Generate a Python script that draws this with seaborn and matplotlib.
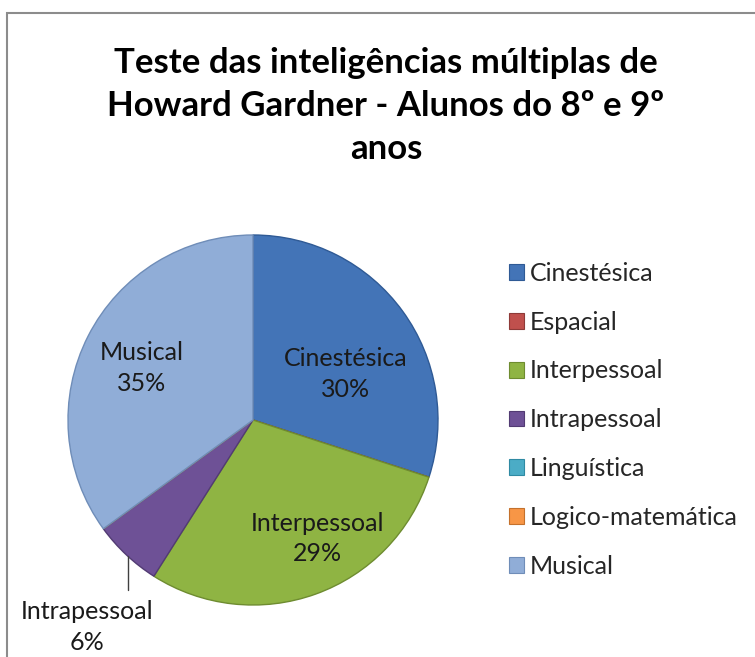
import matplotlib
matplotlib.use("Agg")
import matplotlib.pyplot as plt
import matplotlib.patches as mpatches
import seaborn as sns

# Data (percent of students)
categories = ['Cinestésica', 'Espacial', 'Interpessoal', 'Intrapessoal',
              'Linguística', 'Logico-matemática', 'Musical']
values = [30, 0, 29, 6, 0, 0, 35]
colors = ['#4374B7', '#C0504D', '#8FB443', '#6E5196', '#4BACC6', '#F79646', '#90ADD7']
edge_colors = ['#2F5A95', '#8E3A38', '#6E8C30', '#523B73', '#2F8AA3', '#C4712C', '#6F8DB8']

title = 'Teste das inteligências múltiplas de\nHoward Gardner - Alunos do 8º e 9º\nanos'

sns.set_theme(style="white")
plt.rcParams['font.family'] = ['Lato', 'DejaVu Sans']

W, H = 755, 657
fig = plt.figure(figsize=(W / 100, H / 100), dpi=100)
fig.patch.set_facecolor('white')

# chart area border (runs off the right/bottom of the image)
border = mpatches.Rectangle((6.5 / W, -0.1), 2, 1.1 - 12.5 / H, transform=fig.transFigure,
                            fill=False, edgecolor='#8C8C8C', linewidth=1.5)
fig.patches.append(border)

# pie axes: centre (253, 420) px, radius 185 px
cx, cy, r = 253, 420, 185
ax = fig.add_axes([(cx - r) / W, (H - cy - r) / H, 2 * r / W, 2 * r / H])
wedges, _ = ax.pie(values, colors=colors, startangle=90, counterclock=False,
                   radius=1.0, wedgeprops=dict(linewidth=1.0))
for w, ec in zip(wedges, edge_colors):
    w.set_edgecolor(ec)
ax.set_xlim(-1, 1)
ax.set_ylim(-1, 1)
ax.set_aspect('equal')
ax.axis('off')

# data label positions (in pie radii), Excel "best fit" style
label_pos = {'Cinestésica': (0.50, 0.25), 'Interpessoal': (0.35, -0.64),
             'Musical': (-0.60, 0.28), 'Intrapessoal': (-0.898, -1.12)}
for name, v in zip(categories, values):
    if v == 0:
        continue
    x, y = label_pos[name]
    ax.text(x, y, f'{name}\n{v}%', ha='center', va='center', fontsize=18,
            color='#1a1a1a', linespacing=1.4, clip_on=False)
    if name == 'Intrapessoal':
        # leader line to the small slice
        lx = -(cx - 128) / r
        ax.plot([lx, lx], [-(556 - cy) / r, -(590 - cy) / r], color='#404040', lw=1, clip_on=False)

fig.text(386 / W, 1 - 106 / H, title, ha='center', va='center', fontsize=25,
         fontweight='bold', color='black', linespacing=1.42)

handles = [mpatches.Patch(facecolor=c, edgecolor=e, linewidth=0.8) for c, e in zip(colors, edge_colors)]
fig.legend(handles, categories, loc='upper left', bbox_to_anchor=(509 / W, 1 - 262 / H),
           frameon=False, fontsize=18, handlelength=0.6, handleheight=0.6,
           handletextpad=0.25, labelspacing=1.03, borderpad=0, borderaxespad=0)

fig.savefig('out.png', dpi=100)
